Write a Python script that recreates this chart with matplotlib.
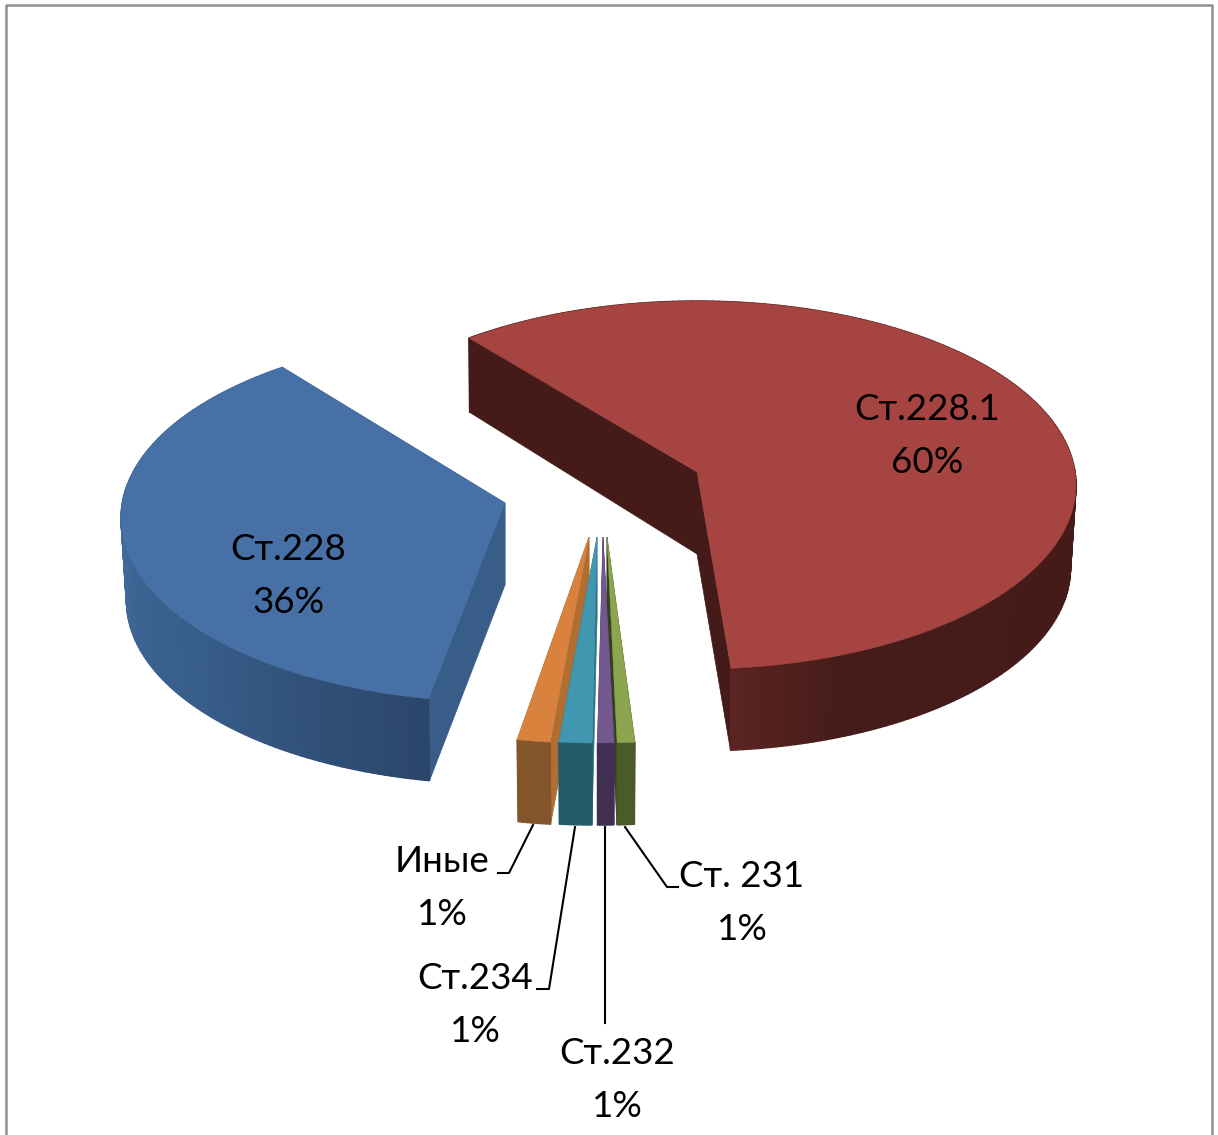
import numpy as np
import matplotlib
matplotlib.use("Agg")
import matplotlib.pyplot as plt
from matplotlib.collections import PolyCollection
from matplotlib.colors import to_rgb

# data, clockwise from the start of the red slice
categories = ["Ст.228.1", "Ст. 231", "Ст.232", "Ст.234", "Иные", "Ст.228"]
percent_labels = [60, 1, 1, 1, 1, 36]
# slice widths as measured on the picture (perspective pulls them off the printed %)
shares = [58.85, 0.75, 0.7, 1.5, 1.5, 37.25]

# colours per slice
top_colors = ["#A64441", "#8BA64E", "#735890", "#4197AF", "#D9823E", "#4670A6"]
cut_colors = ["#441B18", "#344020", "#412F52", "#2F7488", "#B06E32", "#385D88"]
side_stops = [
    [(-85, "#5C2422"), (-68, "#451C19"), (0, "#441B18")],
    [(-90, "#4B5A2B"), (-80, "#4B5A2B")],
    [(-95, "#412F52"), (-80, "#412F52")],
    [(-100, "#255A68"), (-85, "#255A68")],
    [(-105, "#84552A"), (-90, "#84552A")],
    [(-180, "#3F6998"), (-140, "#375C88"), (-101, "#2B4669")],
]

# layout, in pixels of the 1218x1135 picture
centers = [(697, 485), (601, 559), (598, 559), (592.5, 559), (584, 559), (500, 518)]
apexes = [(697, 472), (607, 537), (603, 537), (597, 537), (589, 537), (505, 503)]
x_scale = [1, 1, 1, 0.93, 0.935, 1]
label_xy = [(927, 436), (742, 903), (617, 1080), (475, 1005), (442, 888), (288, 576)]
leaders = [
    None,
    [(625, 827), (667, 887), (678, 887)],
    [(605, 827), (605, 1023)],
    [(575, 827), (549, 989), (537, 989)],
    [(533, 825), (509, 873), (498, 873)],
    None,
]
draw_order = [5, 0, 4, 3, 1, 2]
START_DEG = 127
RX, RY = 379, 184
RX_LOW, RY_LOW = 373.5, 183
DEPTH, APEX_DEPTH = 83, 82

plt.rcParams["font.family"] = ["Lato", "Noto Sans", "DejaVu Sans"]

fig = plt.figure(figsize=(12.18, 11.35), dpi=100)
ax = fig.add_axes([0, 0, 1, 1])
ax.set_xlim(0, 1218)
ax.set_ylim(1135, 0)
ax.axis("off")

# chart frame, runs off the bottom
ax.plot([6, 6, 1212, 1212], [1140, 5, 5, 1140], color="#8f8f8f", lw=1.8)


def rim_top(c, t, sx):
    return np.c_[c[0] + RX * sx * np.cos(t), c[1] - RY * np.sin(t)]


def rim_low(c, t, sx):
    # back of the pie is a bit further away, so the lower edge opens out there
    back = np.clip(np.sin(t), 0, None)
    rx = (RX_LOW + (RX - RX_LOW) * back) * sx
    ry = RY_LOW + 15 * back
    return np.c_[c[0] + rx * np.cos(t), c[1] + DEPTH - ry * np.sin(t)]


def side_color(stops, deg):
    xs = [s[0] for s in stops]
    rgb = np.array([to_rgb(s[1]) for s in stops])
    return [np.interp(deg, xs, rgb[:, i]) for i in range(3)]


def cut_face(apex, top_pt, low_pt, color):
    xs = [apex[0], apex[0], low_pt[0], top_pt[0]]
    ys = [apex[1], apex[1] + APEX_DEPTH, low_pt[1], top_pt[1]]
    ax.fill(xs, ys, color=color, lw=0.5)


# clockwise start/end of each slice
ends = START_DEG - np.cumsum(np.array(shares) * 3.6)
starts = np.r_[START_DEG, ends[:-1]]

for i in draw_order:
    c, apex = centers[i], apexes[i]
    deg = np.linspace(starts[i], ends[i], max(int(starts[i] - ends[i]), 8))
    t = np.radians(deg)
    top = rim_top(c, t, x_scale[i])
    low = rim_low(c, t, x_scale[i])

    # the two straight cut walls first, rim and top go over them
    cut_face(apex, top[-1], low[-1], cut_colors[i])
    cut_face(apex, top[0], low[0], cut_colors[i])

    # outer wall as small strips to get the shading
    quads = [[top[k], top[k + 1], low[k + 1], low[k]] for k in range(len(t) - 1)]
    mid = (deg[:-1] + deg[1:]) / 2
    mid = np.where(mid > 0, mid - 360, mid) if i == 5 else mid
    colors = [side_color(side_stops[i], d) for d in mid]
    ax.add_collection(PolyCollection(quads, facecolors=colors, edgecolors="face", linewidths=1.0))

    ax.fill(
        np.r_[apex[0], top[:, 0]],
        np.r_[apex[1], top[:, 1]],
        color=top_colors[i],
        lw=0.3,
    )

for name, pct, xy, leader in zip(categories, percent_labels, label_xy, leaders):
    ax.text(
        xy[0], xy[1], f"{name}\n{pct}%",
        ha="center", va="center", fontsize=26.5, color="black", linespacing=1.72,
    )
    if leader:
        ax.plot([p[0] for p in leader], [p[1] for p in leader], color="black", lw=1.5)

fig.savefig("out.png", dpi=100)
